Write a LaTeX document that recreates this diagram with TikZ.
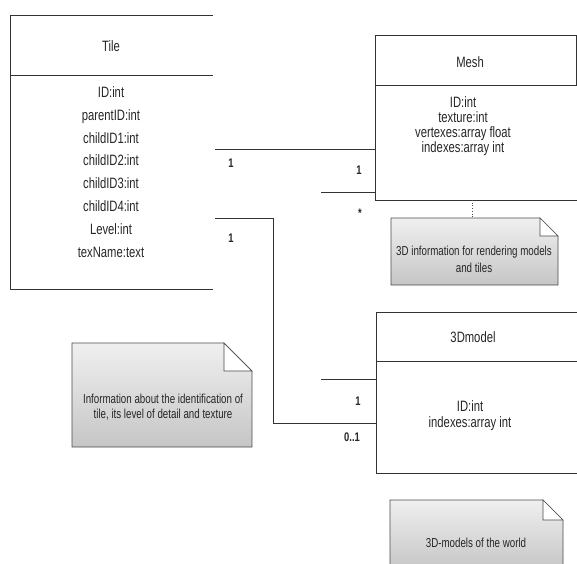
\documentclass[tikz,border=0pt]{standalone}
\usepackage{fontspec}
\setmainfont{Liberation Sans}[FakeStretch=0.75]
\begin{document}
\begin{tikzpicture}[x=1pt,y=-1pt,
  edge/.style={draw=black!80, line width=0.9pt},
  boxline/.style={draw=black!80, line width=0.9pt},
  cls/.style={font=\fontsize{15}{16}\selectfont, text=black!85, inner sep=0pt},
  tileattr/.style={cls, align=center, font=\fontsize{15}{22.8}\selectfont},
  meshattr/.style={cls, align=center, font=\fontsize{15}{15}\selectfont},
  modelattr/.style={cls, align=center, font=\fontsize{15}{16}\selectfont},
  mult/.style={font=\fontsize{12.5}{12.5}\selectfont\bfseries, text=black!85, inner sep=0pt},
  notefill/.style={draw=black!70, line width=0.7pt, top color=gray!12, bottom color=gray!45},
  foldfill/.style={draw=black!70, line width=0.7pt, fill=white},
  notetext/.style={font=\fontsize{13}{14.5}\selectfont, align=center, inner sep=0pt, text=black!85}]
\useasboundingbox[fill=white] (0,0) rectangle (577,563);

% ---------- Tile class ----------
\draw[boxline] (213,15) -- (10,15) -- (10,289) -- (213,289);
\draw[boxline] (10,75) -- (213,75);
\node[cls] (tiletitle) at (111,46) {Tile};
\node[tileattr] (tileattrs) at (111,172) {ID:int\\parentID:int\\childID1:int\\childID2:int\\childID3:int\\childID4:int\\Level:int\\texName:text};
\coordinate (tileR1) at (215,149);
\coordinate (tileR2) at (215,218);

% ---------- Mesh class ----------
\draw[boxline] (585,35) -- (375,35) -- (375,200) -- (585,200);
\draw[boxline] (375,85) -- (585,85);
\draw[boxline] (576,35) -- (576,85);
\node[cls] (meshtitle) at (470,62) {Mesh};
\node[meshattr] (meshattrs) at (463,126) {ID:int\\texture:int\\vertexes:array float\\indexes:array int};
\coordinate (meshL1) at (375,149);
\coordinate (meshL2) at (375,192);
\coordinate (meshStub) at (321,192);
\coordinate (meshB) at (472,200);

% ---------- 3Dmodel class ----------
\draw[boxline] (585,312) -- (376,312) -- (376,473) -- (585,473);
\draw[boxline] (376,361) -- (585,361);
\node[cls] (modeltitle) at (473,337) {3Dmodel};
\node[modelattr] (modelattrs) at (470,416) {ID:int\\indexes:array int};
\coordinate (modelL1) at (376,379);
\coordinate (modelStub) at (321,379);
\coordinate (modelL2) at (376,423);
\coordinate (bend1) at (273,218);
\coordinate (bend2) at (273,423);

% ---------- connectors ----------
\draw[edge] (tileR1) -- (meshL1);
\draw[edge] (meshStub) -- (meshL2);
\draw[edge] (tileR2) -- (bend1) -- (bend2) -- (modelL2);
\draw[edge] (modelStub) -- (modelL1);

% multiplicities
\node[mult] (m1) at (231,163) {1};
\node[mult] (m2) at (359,170) {1};
\node[mult] (m3) at (360,213) {*};
\node[mult] (m4) at (231,238) {1};
\node[mult] (m5) at (358,401) {1};
\node[mult] (m6) at (352,437) {0..1};

% ---------- Mesh note ----------
\coordinate (meshnoteT) at (472,218);
\draw[draw=black!70, line width=0.7pt, dotted] (meshB) -- (meshnoteT);
\path[notefill] (391,218) -- (540,218) -- (558,236) -- (558,285) -- (391,285) -- cycle;
\path[foldfill] (540,218) -- (540,236) -- (558,236) -- cycle;
\node[notetext, font=\fontsize{13}{17}\selectfont] (meshnote) at (474,259) {3D information for rendering models\\and tiles};

% ---------- Tile note ----------
\path[notefill] (72,343) -- (224,343) -- (252,371) -- (252,447) -- (72,447) -- cycle;
\path[foldfill] (224,343) -- (224,371) -- (252,371) -- cycle;
\node[notetext] (tilenote) at (163,407) {Information about the identification of\\tile, its level of detail and texture};

% ---------- 3Dmodel note ----------
\path[notefill] (390,500) -- (543,500) -- (563,520) -- (563,570) -- (390,570) -- cycle;
\path[foldfill] (543,500) -- (543,520) -- (563,520) -- cycle;
\node[notetext] (modelnote) at (476,543) {3D-models of the world};
\end{tikzpicture}
\end{document}
